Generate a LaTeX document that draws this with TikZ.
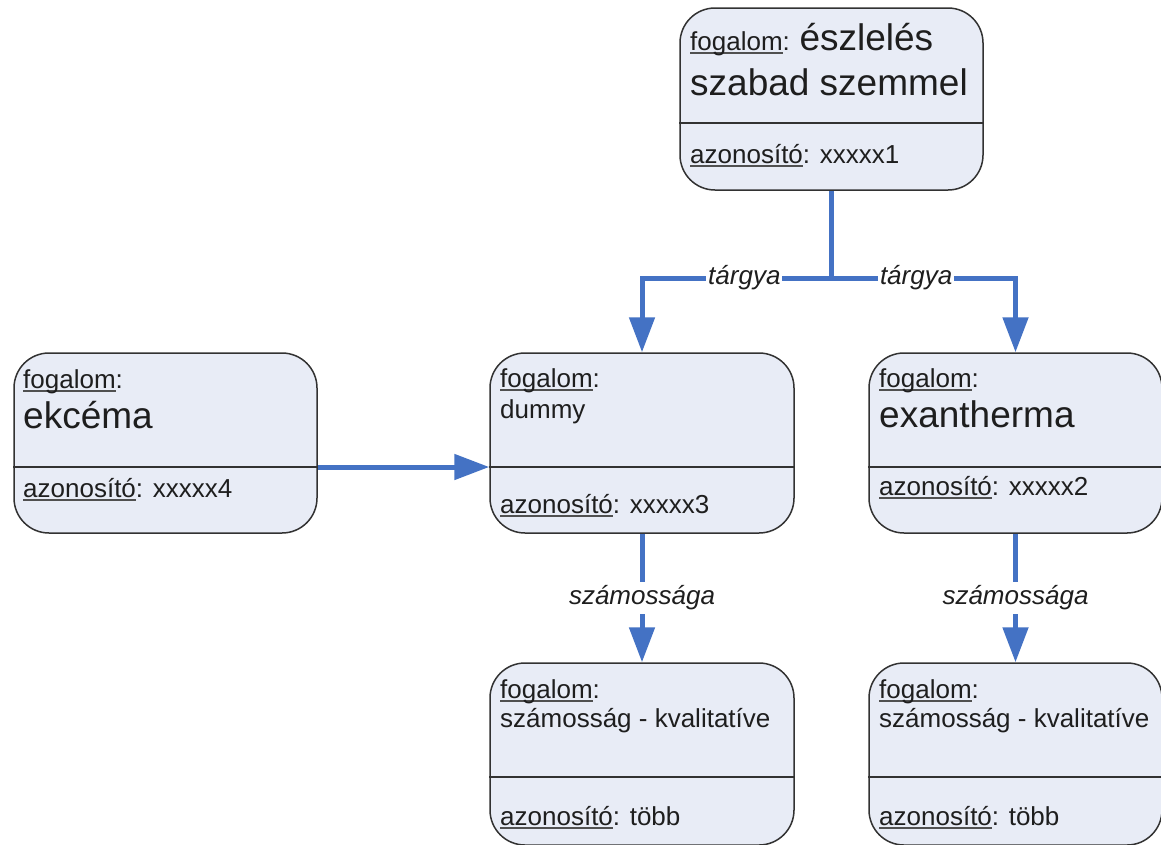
\documentclass[tikz,border=0pt]{standalone}
\usepackage{fontspec}
\setmainfont{Liberation Sans}
\usetikzlibrary{arrows.meta}
\definecolor{boxfill}{RGB}{232,236,246}
\definecolor{boxline}{RGB}{50,50,50}
\definecolor{connblue}{RGB}{68,114,196}
\definecolor{txtcol}{RGB}{30,30,30}
\definecolor{ulcol}{RGB}{80,80,80}
\newcommand\ulin[1]{\setbox0\hbox{#1}\rlap{\textcolor{ulcol}{\rule[-4pt]{\wd0}{1.6pt}}}\box0}
\newcommand\txtS{\fontsize{26}{30}\selectfont}
\newcommand\txtL{\fontsize{37}{44}\selectfont}
\tikzset{
  cbox/.style={draw=boxline, line width=1.5pt, fill=boxfill, rounded corners=35pt, inner sep=0pt},
  divline/.style={draw=boxline, line width=1.5pt},
  conn/.style={draw=connblue, line width=5pt},
  tip/.style={-{Triangle[length=35pt,width=25pt]}},
  lbl/.style={fill=white, inner xsep=2pt, inner ysep=4pt, font=\txtS\itshape, text=txtcol},
  txt/.style={anchor=base west, inner sep=0pt, text=txtcol, font=\txtS},
}
\begin{document}
\begin{tikzpicture}[x=1pt,y=-1pt]
\useasboundingbox[fill=white] (0,0) rectangle (1161,844);
% boxes
\node[cbox, minimum width=303pt, minimum height=182pt] (top) at (831.5,99) {};
\node[cbox, minimum width=303pt, minimum height=180pt] (left) at (165.5,443) {};
\node[cbox, minimum width=304pt, minimum height=180pt] (mid) at (642,443) {};
\node[cbox, minimum width=293pt, minimum height=180pt] (right) at (1015.5,443) {};
\node[cbox, minimum width=304pt, minimum height=182pt] (bl) at (642,754) {};
\node[cbox, minimum width=293pt, minimum height=182pt] (br) at (1015.5,754) {};
% dividers
\draw[divline] (top.west |- 0,123) -- (top.east |- 0,123);
\draw[divline] (left.west |- 0,467) -- (left.east |- 0,467) coordinate (ldivE);
\draw[divline] (mid.west |- 0,467) coordinate (mdivW) -- (mid.east |- 0,467);
\draw[divline] (right.west |- 0,467) -- (right.east |- 0,467);
\draw[divline] (bl.west |- 0,777) -- (bl.east |- 0,777);
\draw[divline] (br.west |- 0,777) -- (br.east |- 0,777);
% texts
\node[txt] (t1a) at (690,50) {\ulin{fogalom}: {\txtL észlelés}};
\node[txt] (t1b) at (690,95) {\txtL szabad szemmel};
\node[txt] (t1c) at (690,163) {\ulin{azonosító}: xxxxx1};
\node[txt] (t4a) at (23,388) {\ulin{fogalom}:};
\node[txt] (t4b) at (23,428) {\txtL ekcéma};
\node[txt] (t4c) at (23,497) {\ulin{azonosító}: xxxxx4};
\node[txt] (t3a) at (500,387) {\ulin{fogalom}:};
\node[txt] (t3b) at (500,418) {dummy};
\node[txt] (t3c) at (500,513) {\ulin{azonosító}: xxxxx3};
\node[txt] (t2a) at (879,387) {\ulin{fogalom}:};
\node[txt] (t2b) at (879,427) {\txtL exantherma};
\node[txt] (t2c) at (879,495) {\ulin{azonosító}: xxxxx2};
\node[txt] (t5a) at (500,698) {\ulin{fogalom}:};
\node[txt] (t5b) at (500,727) {számosság - kvalitatíve};
\node[txt] (t5c) at (500,825) {\ulin{azonosító}: több};
\node[txt] (t6a) at (879,698) {\ulin{fogalom}:};
\node[txt] (t6b) at (879,727) {számosság - kvalitatíve};
\node[txt] (t6c) at (879,825) {\ulin{azonosító}: több};
% connectors
\draw[conn] (top.south) -- (top.south |- 0,278) coordinate (split);
\draw[conn,tip] (split) -| node[lbl,pos=0.23] (lt1) {tárgya} (mid.north);
\draw[conn,tip] (split) -| node[lbl,pos=0.23] (lt2) {tárgya} (right.north);
\draw[conn,tip] (ldivE) -- (mdivW);
\draw[conn,tip] (mid.south) -- node[lbl] (ls1) {számossága} (bl.north);
\draw[conn,tip] (right.south) -- node[lbl] (ls2) {számossága} (br.north);
\end{tikzpicture}
\end{document}
